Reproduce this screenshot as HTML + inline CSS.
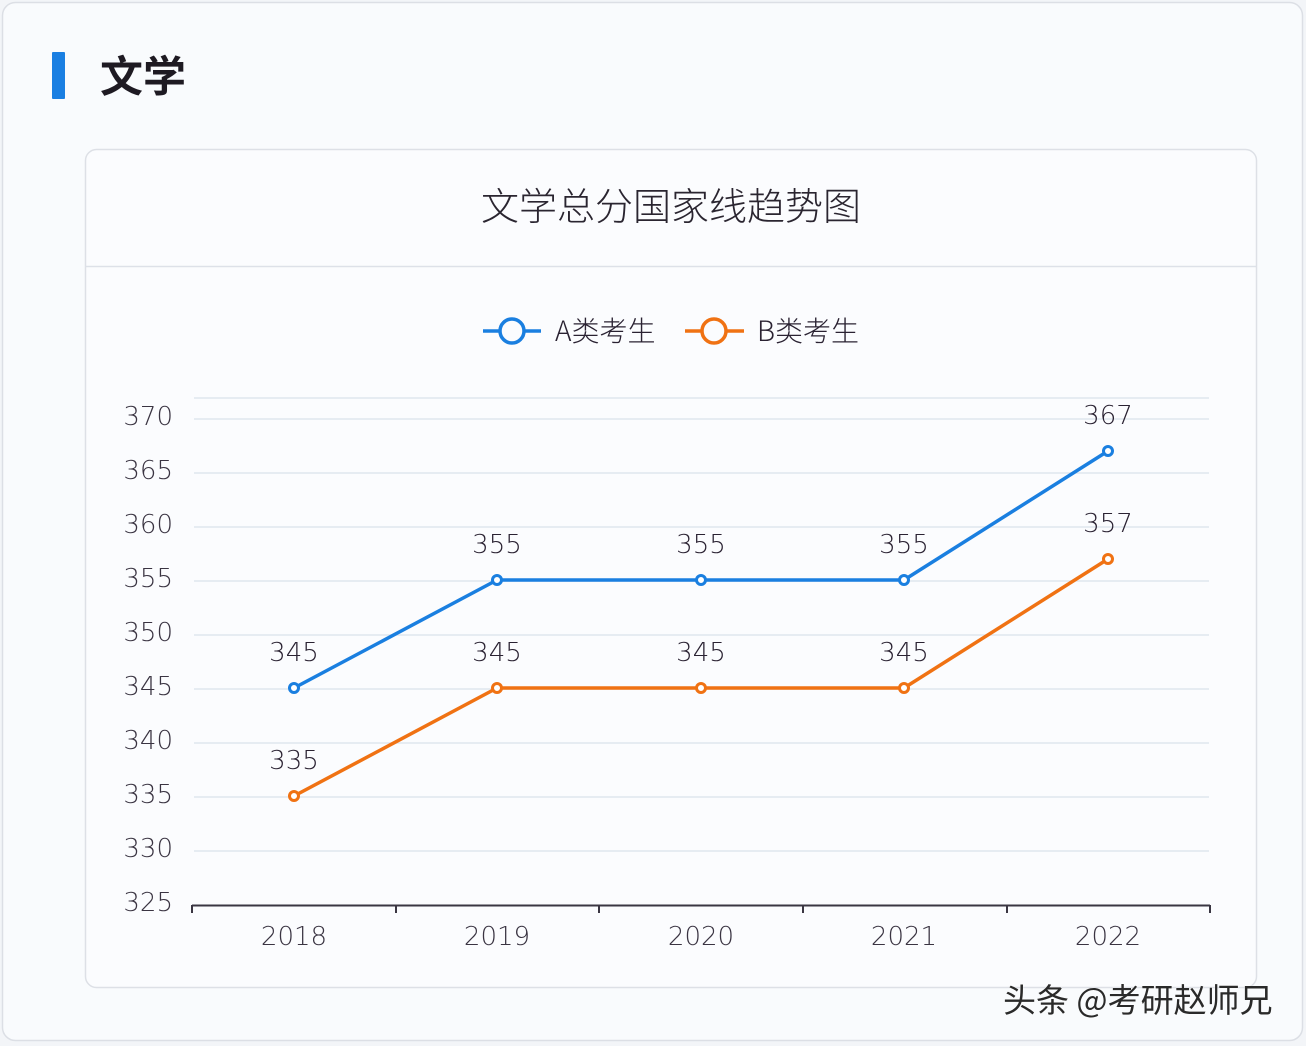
<!DOCTYPE html>
<html><head><meta charset="utf-8">
<style>
html,body{margin:0;padding:0;background:#ffffff;}
body{width:1306px;height:1046px;overflow:hidden;position:relative;font-family:"Liberation Sans","Noto Sans CJK SC",sans-serif;}
svg{position:absolute;left:0;top:0;}
</style></head>
<body>
<svg width="1306" height="1046" viewBox="0 0 1306 1046" xmlns="http://www.w3.org/2000/svg">
  <rect x="0" y="0" width="1306" height="1046" fill="#f3f5f8"/>
  <rect x="2.5" y="2.5" width="1300" height="1038" rx="13" fill="#f9fbfd" stroke="#dcdfe5" stroke-width="1.5"/>
  <rect x="52" y="52" width="13" height="47" fill="#1a7fe2" rx="1"/>
  <text x="100" y="92" font-family="'Noto Sans CJK SC',sans-serif" font-weight="bold" font-size="43" fill="#1e1a22">文学</text>
  <rect x="85.5" y="149.5" width="1171" height="838" rx="11" fill="#fbfcfe" stroke="#dde0e6" stroke-width="1.5"/>
  <line x1="86" y1="266.5" x2="1256" y2="266.5" stroke="#dde1e8" stroke-width="1.5"/>
  <text x="671" y="220" text-anchor="middle" font-family="'Noto Sans CJK SC',sans-serif" font-weight="300" font-size="38" fill="#2a2530">文学总分国家线趋势图</text>

  <!-- legend -->
  <line x1="483" y1="331" x2="541" y2="331" stroke="#1a7fe0" stroke-width="3.5"/>
  <circle cx="512" cy="331" r="12" fill="#fbfcfe" stroke="#1a7fe0" stroke-width="3.5"/>
  <text x="555" y="341" font-family="'Noto Sans CJK SC',sans-serif" font-weight="300" font-size="28" fill="#2a2232">A类考生</text>
  <line x1="685" y1="331" x2="744" y2="331" stroke="#f07213" stroke-width="3.5"/>
  <circle cx="714" cy="331" r="12" fill="#fbfcfe" stroke="#f07213" stroke-width="3.5"/>
  <text x="757" y="341" font-family="'Noto Sans CJK SC',sans-serif" font-weight="300" font-size="28" fill="#2a2232">B类考生</text>

  <!-- grid -->
  <g stroke="#dfe6ee" stroke-width="1.5">
    <line x1="194" y1="398" x2="1209" y2="398"/>
    <line x1="194" y1="419" x2="1209" y2="419"/>
    <line x1="194" y1="473" x2="1209" y2="473"/>
    <line x1="194" y1="527" x2="1209" y2="527"/>
    <line x1="194" y1="581" x2="1209" y2="581"/>
    <line x1="194" y1="635" x2="1209" y2="635"/>
    <line x1="194" y1="689" x2="1209" y2="689"/>
    <line x1="194" y1="743" x2="1209" y2="743"/>
    <line x1="194" y1="797" x2="1209" y2="797"/>
    <line x1="194" y1="851" x2="1209" y2="851"/>
  </g>
  <!-- y labels -->
  <g font-family="'DejaVu Sans',sans-serif" font-weight="200" font-size="26" fill="#3a3442" text-anchor="end">
    <text x="173" y="425">370</text>
    <text x="173" y="479">365</text>
    <text x="173" y="533">360</text>
    <text x="173" y="587">355</text>
    <text x="173" y="641">350</text>
    <text x="173" y="695">345</text>
    <text x="173" y="749">340</text>
    <text x="173" y="803">335</text>
    <text x="173" y="857">330</text>
    <text x="173" y="911">325</text>
  </g>
  <!-- x axis -->
  <line x1="192" y1="905.5" x2="1210" y2="905.5" stroke="#3a3642" stroke-width="2"/>
  <g stroke="#3a3642" stroke-width="2">
    <line x1="192" y1="905" x2="192" y2="913"/>
    <line x1="396" y1="905" x2="396" y2="913"/>
    <line x1="599" y1="905" x2="599" y2="913"/>
    <line x1="803" y1="905" x2="803" y2="913"/>
    <line x1="1007" y1="905" x2="1007" y2="913"/>
    <line x1="1210" y1="905" x2="1210" y2="913"/>
  </g>
  <g font-family="'DejaVu Sans',sans-serif" font-weight="200" font-size="26" fill="#3a3442" text-anchor="middle">
    <text x="294" y="945">2018</text>
    <text x="497" y="945">2019</text>
    <text x="701" y="945">2020</text>
    <text x="904" y="945">2021</text>
    <text x="1108" y="945">2022</text>
  </g>

  <!-- series B -->
  <polyline points="294,796 497,688 701,688 904,688 1108,559" fill="none" stroke="#f07213" stroke-width="3.5" stroke-linejoin="round"/>
  <!-- series A -->
  <polyline points="294,688 497,580 701,580 904,580 1108,451" fill="none" stroke="#1a7fe0" stroke-width="3.5" stroke-linejoin="round"/>
  <g fill="#ffffff" stroke="#f07213" stroke-width="3">
    <circle cx="294" cy="796" r="4.5"/><circle cx="497" cy="688" r="4.5"/><circle cx="701" cy="688" r="4.5"/><circle cx="904" cy="688" r="4.5"/><circle cx="1108" cy="559" r="4.5"/>
  </g>
  <g fill="#ffffff" stroke="#1a7fe0" stroke-width="3">
    <circle cx="294" cy="688" r="4.5"/><circle cx="497" cy="580" r="4.5"/><circle cx="701" cy="580" r="4.5"/><circle cx="904" cy="580" r="4.5"/><circle cx="1108" cy="451" r="4.5"/>
  </g>
  <!-- data labels -->
  <g font-family="'DejaVu Sans',sans-serif" font-weight="200" font-size="26" fill="#2a2232" text-anchor="middle">
    <text x="294" y="661">345</text>
    <text x="497" y="553">355</text>
    <text x="701" y="553">355</text>
    <text x="904" y="553">355</text>
    <text x="1108" y="424">367</text>
    <text x="294" y="769">335</text>
    <text x="497" y="661">345</text>
    <text x="701" y="661">345</text>
    <text x="904" y="661">345</text>
    <text x="1108" y="532">357</text>
  </g>

  <!-- watermark -->
  <text x="1003" y="1012" font-family="'Noto Sans CJK SC',sans-serif" font-size="33" fill="#2a2a2a" stroke="#ffffff" stroke-width="0.6" paint-order="stroke">头条 @考研赵师兄</text>
</svg>
</body></html>
